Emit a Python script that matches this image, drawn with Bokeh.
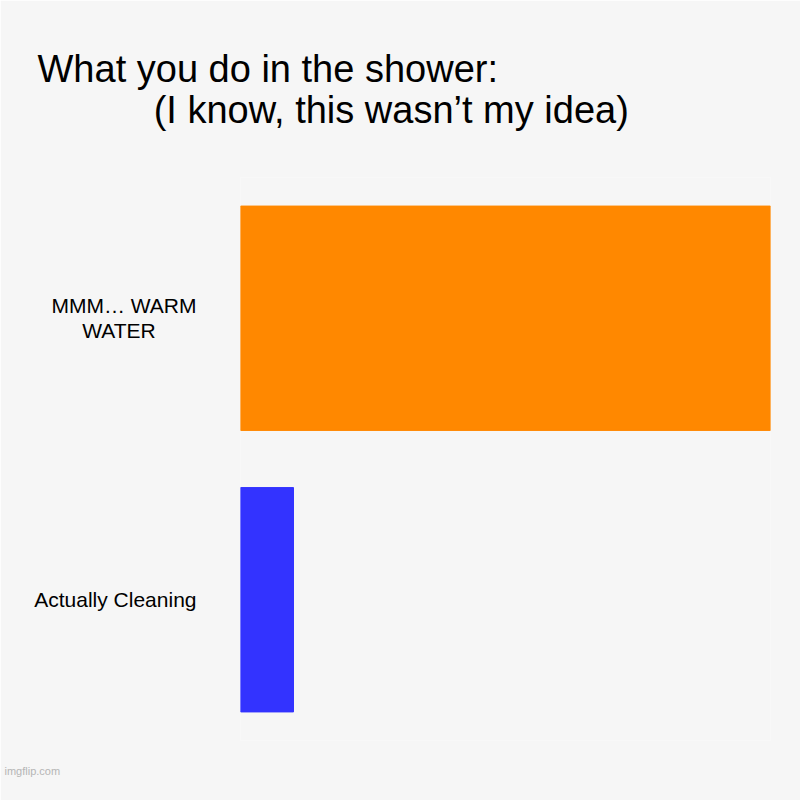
from bokeh.plotting import figure
from bokeh.models import Range1d, FactorRange, Title, ColumnDataSource
from bokeh.embed import file_html
from bokeh.resources import INLINE

# data
categories = ["Actually Cleaning", "MMM… WARM\nWATER\u00a0\u00a0\u00a0\u00a0\u00a0\u00a0\u00a0"]
values = [10, 100]
colors = ["#3333ff", "#ff8800"]
title_line1 = "What you do in the shower:"
title_line2 = "(I know, this wasn’t my idea)"
watermark = "imgflip.com"

BG = "#f6f6f6"
FONT = "Liberation Sans"

src = ColumnDataSource(dict(cat=categories, val=values, color=colors))

p = figure(width=800, height=800, output_backend="svg", toolbar_location=None,
           y_range=FactorRange(factors=categories, range_padding=0),
           x_range=Range1d(0, 100),
           min_border_left=240, min_border_right=30,
           min_border_top=150, min_border_bottom=60)

p.hbar(y="cat", right="val", left=0, height=0.797, color="color", source=src)

p.background_fill_color = BG
p.border_fill_color = BG
p.outline_line_color = None
p.xgrid.visible = False
p.ygrid.visible = False
p.xaxis.visible = False

ax = p.yaxis[0]
ax.axis_line_color = None
ax.major_tick_line_color = None
ax.minor_tick_line_color = None
ax.major_label_text_font = FONT
ax.major_label_text_font_size = "21px"
ax.major_label_text_line_height = 1.1
ax.major_label_text_color = "#000000"
ax.major_label_standoff = 38

# two-line title, second line indented
p.title.text = title_line1 + "\n" + "\u00a0" * 11 + title_line2
p.title.text_font = FONT
p.title.text_font_size = "38px"
p.title.text_font_style = "normal"
p.title.text_color = "#000000"
p.title.text_line_height = 0.98
p.title.align = "left"
p.title.offset = -203
p.title.standoff = 92

p.add_layout(Title(text=watermark, text_font=FONT, text_font_size="11px",
                   text_font_style="normal", text_color="#b5b5b5",
                   align="left", offset=-236, standoff=44), "below")

open("out.html", "w").write(file_html(p, INLINE))
